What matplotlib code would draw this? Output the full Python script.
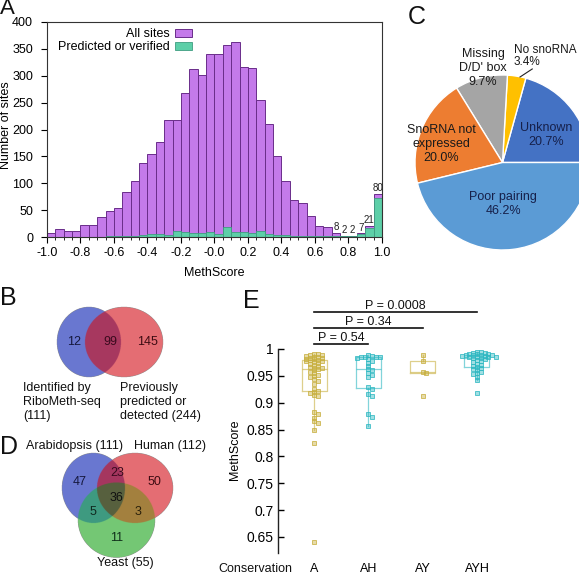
import numpy as np
import matplotlib
matplotlib.use("Agg")
import matplotlib.pyplot as plt
from matplotlib.colors import to_rgba
from matplotlib.patches import Patch

plt.rcParams["font.family"] = ["Liberation Sans", "DejaVu Sans"]

W, H = 579, 578

# ---- panel A: MethScore histogram ----
bin_left = np.round(np.arange(-1.0, 1.0, 0.05), 2)
all_sites = [8, 15, 12, 11, 22, 22, 37, 48, 54, 83,
             105, 138, 154, 177, 217, 217, 267, 312, 301, 341,
             341, 358, 363, 316, 314, 254, 211, 150, 105, 69,
             64, 39, 20, 18, 8, 2, 2, 7, 21, 80]
predicted = [0, 0, 0, 0, 0, 0, 0, 1, 1, 1,
             2, 3, 5, 5, 3, 12, 10, 8, 7, 9,
             6, 19, 9, 9, 8, 11, 6, 4, 3, 2,
             2, 1, 1, 1, 2, 1, 1, 6, 17, 73]
labelled_from = 0.70

# ---- panel C: unexplained sites pie ----
pie_labels = ["Unknown", "No snoRNA", "Missing\nD/D' box", "SnoRNA not\nexpressed", "Poor pairing"]
pie_values = [20.7, 3.4, 9.7, 20.0, 46.2]
pie_colors = ["#4472C4", "#FFC000", "#A5A5A5", "#ED7D31", "#5B9BD5"]

# ---- panel B / D: venn counts ----
venn_b = {"only_seq": 12, "both": 99, "only_prev": 145}
venn_b_sets = ["Identified by\nRiboMeth-seq\n(111)", "Previously\npredicted or\ndetected (244)"]
venn_d = {"A": 47, "AH": 23, "H": 50, "AHY": 36, "AY": 5, "HY": 3, "Y": 11}
venn_d_sets = ["Arabidopsis (111)", "Human (112)", "Yeast (55)"]

# ---- panel E: MethScore by conservation ----
groups = ["A", "AH", "AY", "AYH"]
score_A = [0.991, 0.990, 0.989, 0.988, 0.987, 0.986, 0.985, 0.984, 0.983, 0.982,
           0.981, 0.980, 0.979, 0.978, 0.977, 0.976, 0.974, 0.972, 0.970, 0.968,
           0.966, 0.965, 0.964, 0.962, 0.960, 0.958, 0.955, 0.952, 0.950, 0.948,
           0.944, 0.940, 0.935, 0.925, 0.922, 0.920, 0.918, 0.915, 0.912, 0.882,
           0.878, 0.872, 0.866, 0.862, 0.849, 0.825, 0.641]
score_AH = [0.988, 0.987, 0.986, 0.986, 0.985, 0.985, 0.984, 0.982, 0.978, 0.974,
            0.968, 0.963, 0.960, 0.956, 0.952, 0.948, 0.930, 0.926, 0.916, 0.913,
            0.878, 0.874, 0.857]
score_AY = [0.988, 0.978, 0.957, 0.955, 0.912]
score_AYH = [0.995, 0.994, 0.993, 0.992, 0.991, 0.990, 0.990, 0.989, 0.989, 0.988,
             0.988, 0.987, 0.987, 0.986, 0.986, 0.985, 0.985, 0.984, 0.983, 0.981,
             0.979, 0.977, 0.975, 0.972, 0.970, 0.968, 0.966, 0.965, 0.963, 0.960,
             0.957, 0.955, 0.953, 0.948, 0.942, 0.918]
group_colors = ["#C8B040", "#2FB8C2", "#C8B040", "#2FB8C2"]
pvalues = [("P = 0.54", 1, 2), ("P = 0.34", 1, 3), ("P = 0.0008", 1, 4)]


def px_axes(fig, left, top, right, bottom):
    return fig.add_axes([left / W, 1 - bottom / H, (right - left) / W, (bottom - top) / H])


def swarm_offsets(vals, dy=0.005, dx=0.07):
    vals = np.asarray(vals)
    offs = np.zeros(len(vals))
    placed = []
    cands = [0.0]
    for j in range(1, 8):
        cands += [j * dx, -j * dx]
    for i in np.argsort(-vals, kind="stable"):
        v = vals[i]
        for c in cands:
            if all(abs(v - pv) >= dy or abs(c - pc) >= dx * 0.99 for pv, pc in placed):
                break
        offs[i] = c
        placed.append((v, c))
    return offs


def venn_image(ax, ellipses, region_colors, x0, x1, y0, y1, step=0.25):
    xs = np.arange(x0, x1, step) + step / 2
    ys = np.arange(y0, y1, step) + step / 2
    X, Y = np.meshgrid(xs, ys)
    code = np.zeros(X.shape, dtype=int)
    for k, (cx, cy, w, h) in enumerate(ellipses):
        inside = ((X - cx) / (w / 2)) ** 2 + ((Y - cy) / (h / 2)) ** 2 <= 1
        code |= inside.astype(int) << k
    img = np.zeros(X.shape + (4,))
    for key, col in region_colors.items():
        img[code == key] = to_rgba(col)
    ax.imshow(img, extent=(x0, x1, y1, y0), interpolation="antialiased", zorder=1)


fig = plt.figure(figsize=(W / 100, H / 100), dpi=100)

# overlay in pixel coordinates for venns and panel letters
ov = fig.add_axes([0, 0, 1, 1])
ov.axis("off")

blue, red, green = "#6978D0", "#E46E73", "#74C874"
venn_image(ov, [(89, 342, 64, 70), (124, 342, 78, 70)],
           {1: blue, 2: red, 3: "#A8385F"}, 50, 170, 300, 385)
venn_image(ov, [(93.5, 488, 63, 70), (135, 488, 76, 70), (116.5, 520, 77, 75)],
           {1: blue, 2: red, 4: green, 3: "#A5375F", 5: "#3E9A80",
            6: "#A3803E", 7: "#58603E"}, 55, 180, 445, 565)
ov.set_aspect("auto")
ov.set_xlim(0, W)
ov.set_ylim(H, 0)

num_kw = dict(fontsize=9, ha="center", va="center", zorder=3)
ov.text(74, 342, str(venn_b["only_seq"]), color="#15183d", **num_kw)
ov.text(110, 342, str(venn_b["both"]), color="#3a0a1e", **num_kw)
ov.text(147, 342, str(venn_b["only_prev"]), color="#3d0b12", **num_kw)
ov.text(23, 402, venn_b_sets[0], fontsize=9, ha="left", va="center", color="#111")
ov.text(120, 402, venn_b_sets[1], fontsize=9, ha="left", va="center", color="#111")

ov.text(80, 482, str(venn_d["A"]), color="#15183d", **num_kw)
ov.text(117, 473, str(venn_d["AH"]), color="#3a0a1e", **num_kw)
ov.text(154, 482, str(venn_d["H"]), color="#3d0b12", **num_kw)
ov.text(117, 498, str(venn_d["AHY"]), color="#111", **num_kw)
ov.text(93, 512, str(venn_d["AY"]), color="#0f2a20", **num_kw)
ov.text(138, 512, str(venn_d["HY"]), color="#2a200a", **num_kw)
ov.text(117, 538, str(venn_d["Y"]), color="#10301a", **num_kw)
ov.text(75, 446, venn_d_sets[0], fontsize=9, ha="center", va="center", color="#111")
ov.text(170, 446, venn_d_sets[1], fontsize=9, ha="center", va="center", color="#111")
ov.text(125, 563, venn_d_sets[2], fontsize=9, ha="center", va="center", color="#111")

for letter, x, y, size in [("A", 0, 9, 16), ("B", 0, 298, 18), ("C", 408, 17, 18),
                           ("D", 0, 447, 18), ("E", 243, 301, 18)]:
    ov.text(x, y, letter, fontsize=size, ha="left", va="center", color="#111")

# ---- A ----
ax = px_axes(fig, 47, 22, 382, 237)
ax.bar(bin_left, all_sites, width=0.05, align="edge", color="#C47AEA",
       edgecolor="#6a2d8a", linewidth=0.7, label="All sites")
ax.bar(bin_left, predicted, width=0.05, align="edge", color="#5DCFA8",
       edgecolor="#3f9c80", linewidth=0.6, label="Predicted or verified")
for left, n in zip(bin_left, all_sites):
    if left >= labelled_from - 1e-9:
        ax.text(left + 0.025, n + 1, str(n), fontsize=7, ha="center", va="bottom", color="#222")
ax.set_xlim(-1.0, 1.0)
ax.set_ylim(0, 400)
ax.set_xticks(np.round(np.arange(-1.0, 1.01, 0.2), 1))
ax.set_xticks(np.arange(-1.0, 1.01, 0.05), minor=True)
ax.set_xticklabels([f"{v:.1f}" for v in np.round(np.arange(-1.0, 1.01, 0.2), 1)])
ax.set_yticks(range(0, 401, 50))
ax.tick_params(axis="x", which="major", direction="out", length=4, width=0.8, labelsize=9, pad=3)
ax.tick_params(axis="x", which="minor", direction="out", length=2.5, width=0.6)
ax.tick_params(axis="y", direction="out", length=4, width=0.8, labelsize=9, pad=6)
for sp in ax.spines.values():
    sp.set_linewidth(0.8)
    sp.set_color("#333")
ax.set_xlabel("MethScore", fontsize=9)
ax.xaxis.set_label_coords(0.5, (237 - 273) / 215)
ax.xaxis.label.set_va("center")
ax.set_ylabel("Number of sites", fontsize=9)
ax.yaxis.set_label_coords(-41 / 335, (237 - 125) / 215)
ax.yaxis.label.set_va("center")
handles = [Patch(facecolor="#C47AEA", edgecolor="#6a2d8a", linewidth=0.7),
           Patch(facecolor="#5DCFA8", edgecolor="#3f9c80", linewidth=0.6)]
ax.legend(handles, ["All sites", "Predicted or verified"], loc="upper right",
          bbox_to_anchor=(192 / W, 1 - 28 / H), bbox_transform=fig.transFigure,
          frameon=False, markerfirst=False, fontsize=9, handlelength=1.35,
          handleheight=0.6, handletextpad=0.4, labelspacing=0.1, borderpad=0,
          borderaxespad=0)

# ---- C ----
axc = px_axes(fig, 415, 75, 590, 250)
axc.pie(pie_values, colors=pie_colors, startangle=0, counterclock=True, radius=1,
        wedgeprops=dict(edgecolor="white", linewidth=1.0))
axc.set_xlim(-1, 1)
axc.set_ylim(-1, 1)
axc.set_aspect("equal")
pie_text = {0: (0.497, 0.314, "center", 9), 1: (0.131, 1.217, "left", 8.5),
            2: (-0.223, 1.08, "center", 9), 3: (-0.703, 0.211, "center", 9),
            4: (0.006, -0.474, "center", 9)}
for i, (lab, val) in enumerate(zip(pie_labels, pie_values)):
    x, y, ha, fs = pie_text[i]
    col = "#16204a" if i in (0, 4) else "#1a1a1a"
    ls = 1.05 if i == 1 else 1.2
    axc.text(x, y, f"{lab}\n{val:.1f}%", fontsize=fs, ha=ha, va="center",
             multialignment="center" if ha == "center" else "left",
             color=col, linespacing=ls)
axc.plot([0.2, 0.34], [0.977, 1.069], color="#222", lw=0.8, clip_on=False)

# ---- E ----
axe = px_axes(fig, 278, 349, 540, 553)
data = [score_A, score_AH, score_AY, score_AYH]
pos = np.arange(1, len(groups) + 1)
bp = axe.boxplot(data, positions=pos, widths=0.46, showfliers=False, whis=1.5,
                 patch_artist=False)
for i, col in enumerate(group_colors):
    light = to_rgba(col, 0.6)
    bp["boxes"][i].set(color=light, linewidth=0.9)
    bp["medians"][i].set(color=light, linewidth=0.9)
    for k in (2 * i, 2 * i + 1):
        bp["whiskers"][k].set(color=light, linewidth=0.9)
        bp["caps"][k].set(color=light, linewidth=0.0)
for p, vals, col in zip(pos, data, group_colors):
    offs = swarm_offsets(vals)
    axe.plot(p + offs, vals, "s", ms=3.0, mfc=to_rgba(col, 0.45),
             mec=to_rgba(col, 0.9), mew=0.6, ls="none", zorder=3)
axe.set_xlim(0.337, 5.16)
axe.set_ylim(0.62, 1.0)
yt = [0.65, 0.7, 0.75, 0.8, 0.85, 0.9, 0.95, 1.0]
axe.set_yticks(yt)
axe.set_yticklabels([f"{v:g}" for v in yt])
axe.set_xticks(pos)
axe.set_xticklabels(groups)
axe.tick_params(axis="y", direction="in", length=4, width=1.0, labelsize=10, pad=3)
axe.tick_params(axis="x", length=0, labelsize=9, pad=7.5)
for name in ("top", "right", "bottom"):
    axe.spines[name].set_visible(False)
axe.spines["left"].set_linewidth(1.0)
axe.spines["left"].set_color("#222")
axe.set_ylabel("MethScore", fontsize=9)
axe.yaxis.set_label_coords((235 - 278) / 262, (553 - 450) / 204)
axe.yaxis.label.set_va("center")
for (txt, a, b), yb in zip(pvalues, [1.009, 1.039, 1.069]):
    axe.plot([a, b], [yb, yb], color="#111", lw=1.2, clip_on=False)
    axe.text((a + b) / 2, yb, txt, fontsize=9, ha="center", va="bottom", color="#111")
axe.text(0.337 + (218 - 278) / 54.3, 0.62 - 10.5 / 537, "Conservation", fontsize=9,
         ha="left", va="top", transform=axe.transData, color="#111")

fig.savefig("out.png", dpi=100)
